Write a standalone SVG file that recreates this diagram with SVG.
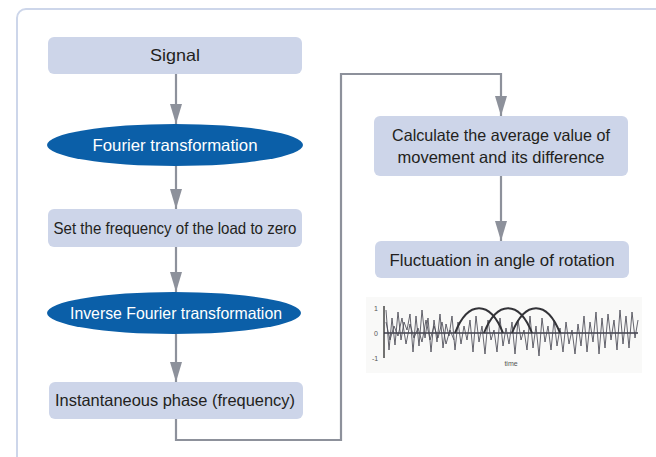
<svg xmlns="http://www.w3.org/2000/svg" width="656" height="457" viewBox="0 0 656 457">
<style>
.box{fill:#cdd5e9;}
.ell{fill:#0b5fa8;}
.t{font-family:"Liberation Sans Narrow","Liberation Sans",Arial,sans-serif;font-size:16.5px;fill:#231f20;text-anchor:middle;}
.tw{font-family:"Liberation Sans Narrow","Liberation Sans",Arial,sans-serif;font-size:16.5px;fill:#ffffff;text-anchor:middle;}
.con{fill:none;stroke:#8d919b;stroke-width:2.2;}
.wave{fill:none;stroke:#4a4a55;stroke-width:1;opacity:0.85;}
.arch{fill:none;stroke:#333338;stroke-width:2;}
.lab{font-family:"Liberation Sans",Arial,sans-serif;font-size:7px;fill:#555;text-anchor:middle;}
</style>
<defs>
<marker id="ah" viewBox="0 0 20 12" refX="20" refY="6" markerWidth="20" markerHeight="12" markerUnits="userSpaceOnUse" orient="auto">
<path d="M0,0 L20,6 L0,12 z" fill="#8d919b"/>
</marker>
</defs>
<rect x="0" y="0" width="656" height="457" fill="#ffffff"/>
<rect x="17" y="9" width="660" height="470" rx="9" fill="none" stroke="#cdd6ea" stroke-width="2"/>

<g id="connectors">
<line class="con" x1="176" y1="74" x2="176" y2="124" marker-end="url(#ah)"/>
<line class="con" x1="176" y1="166" x2="176" y2="209" marker-end="url(#ah)"/>
<line class="con" x1="176" y1="247" x2="176" y2="292" marker-end="url(#ah)"/>
<line class="con" x1="176" y1="334" x2="176" y2="382" marker-end="url(#ah)"/>
<polyline class="con" points="176,419 176,440 341,440 341,74 501,74 501,116" marker-end="url(#ah)"/>
<line class="con" x1="501" y1="176" x2="501" y2="241" marker-end="url(#ah)"/>
</g>

<g id="signal">
<rect class="box" x="48" y="37" width="254" height="37" rx="6"/>
<text class="t" x="175" y="61" textLength="50" lengthAdjust="spacingAndGlyphs">Signal</text>
</g>
<g id="fourier">
<ellipse class="ell" cx="175" cy="145" rx="128" ry="21"/>
<text class="tw" x="175" y="151" textLength="165" lengthAdjust="spacingAndGlyphs">Fourier transformation</text>
</g>
<g id="setfreq">
<rect class="box" x="48" y="209" width="254" height="38" rx="6"/>
<text class="t" x="175" y="234" textLength="243" lengthAdjust="spacingAndGlyphs">Set the frequency of the load to zero</text>
</g>
<g id="inverse">
<ellipse class="ell" cx="174" cy="313" rx="127" ry="21"/>
<text class="tw" x="176" y="319" textLength="212" lengthAdjust="spacingAndGlyphs">Inverse Fourier transformation</text>
</g>
<g id="phase">
<rect class="box" x="49" y="382" width="254" height="37" rx="6"/>
<text class="t" x="175" y="406" textLength="240" lengthAdjust="spacingAndGlyphs">Instantaneous phase (frequency)</text>
</g>
<g id="calc">
<rect class="box" x="374" y="116" width="254" height="60" rx="6"/>
<text class="t" x="501" y="141" textLength="218" lengthAdjust="spacingAndGlyphs">Calculate the average value of</text>
<text class="t" x="501" y="163" textLength="207" lengthAdjust="spacingAndGlyphs">movement and its difference</text>
</g>
<g id="fluct">
<rect class="box" x="375" y="241" width="254" height="37" rx="6"/>
<text class="t" x="502" y="266" textLength="225" lengthAdjust="spacingAndGlyphs">Fluctuation in angle of rotation</text>
</g>

<g id="waveform">
<rect x="366" y="297" width="276" height="76" fill="#f9f9f8"/>
<line x1="384" y1="306" x2="384" y2="358" stroke="#444" stroke-width="1.5"/>
<line x1="384" y1="333" x2="638" y2="333" stroke="#3a3a48" stroke-width="1.6"/>
<text class="lab" x="376" y="311">1</text>
<text class="lab" x="376" y="336">0</text>
<text class="lab" x="375" y="361">-1</text>
<polyline class="wave" points="386,310 389,350 392,318 395,345 398,312 401,340 404,322 407,330 410,314 413,352 416,316 419,346 422,310 425,338 428,318 431,352 434,320 437,342 440,314 443,348 446,324 449,336 452,316 455,350 458,322 461,344 464,326 467,340 470,320 473,352 476,316 479,342 482,326 485,354 488,320 491,340 494,330 497,352 500,318 503,346 506,328 509,344 512,322 515,354 518,320 521,340 524,330 527,350 530,316 533,348 536,326 539,356 542,318 545,342 548,326 551,350 554,320 557,346 560,328 563,352 566,322 569,344 572,330 575,354 578,324 581,346 584,316 587,352 590,322 593,342 596,312 599,354 602,318 605,348 608,314 611,340 614,320 617,350 620,310 623,344 626,316 629,348 632,312 635,338 638,320"/>
<polyline class="wave" points="386,322 390,340 394,326 398,336 402,318 406,344 410,324 414,338 418,328 422,342 426,320 430,340 434,326 438,338 442,322 446,344 450,330 454,340"/>
<path class="arch" d="M455,333 C468,300 490,300 503,333"/>
<path class="arch" d="M484,333 C497,300 519,300 532,333"/>
<path class="arch" d="M512,333 C525,300 547,300 560,333"/>
<text class="lab" x="511" y="366">time</text>
</g>
</svg>
